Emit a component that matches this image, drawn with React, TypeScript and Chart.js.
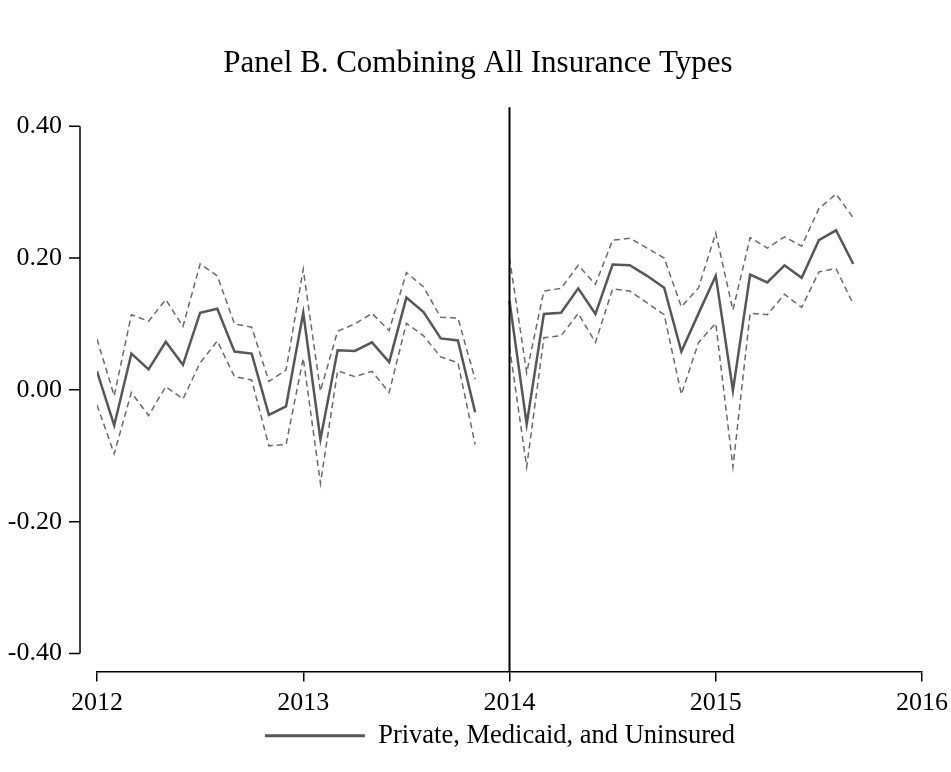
import { useEffect, useRef } from 'react';
import { Chart, registerables } from 'chart.js';

Chart.register(...registerables);

// monthly periods, Jan 2012 - Sep 2015 (Dec 2013 left empty -> gap)
const periods = [
  '2012-01', '2012-02', '2012-03', '2012-04', '2012-05', '2012-06',
  '2012-07', '2012-08', '2012-09', '2012-10', '2012-11', '2012-12',
  '2013-01', '2013-02', '2013-03', '2013-04', '2013-05', '2013-06',
  '2013-07', '2013-08', '2013-09', '2013-10', '2013-11', '2013-12',
  '2014-01', '2014-02', '2014-03', '2014-04', '2014-05', '2014-06',
  '2014-07', '2014-08', '2014-09', '2014-10', '2014-11', '2014-12',
  '2015-01', '2015-02', '2015-03', '2015-04', '2015-05', '2015-06',
  '2015-07', '2015-08', '2015-09'
];

const estimate = [
  0.028, -0.054, 0.055, 0.031, 0.073, 0.038, 0.117, 0.123, 0.058, 0.055, -0.038, -0.025,
  0.117, -0.075, 0.060, 0.059, 0.072, 0.042, 0.140, 0.118, 0.078, 0.075, -0.034, null,
  0.135, -0.052, 0.115, 0.117, 0.154, 0.115, 0.190, 0.189, 0.173, 0.155, 0.058, 0.116,
  0.173, -0.001, 0.175, 0.163, 0.189, 0.170, 0.227, 0.242, 0.191
];

const upperCI = [
  0.077, -0.009, 0.114, 0.104, 0.137, 0.096, 0.191, 0.173, 0.100, 0.095, 0.013, 0.030,
  0.183, -0.002, 0.089, 0.100, 0.116, 0.090, 0.178, 0.156, 0.110, 0.109, 0.016, null,
  0.200, 0.026, 0.150, 0.154, 0.189, 0.160, 0.227, 0.230, 0.215, 0.200, 0.126, 0.155,
  0.238, 0.121, 0.231, 0.215, 0.232, 0.218, 0.275, 0.297, 0.261
];

const lowerCI = [
  -0.023, -0.097, -0.004, -0.039, 0.005, -0.014, 0.041, 0.074, 0.020, 0.015, -0.085, -0.083,
  0.048, -0.142, 0.029, 0.020, 0.028, -0.004, 0.101, 0.082, 0.050, 0.041, -0.083, null,
  0.065, -0.117, 0.079, 0.082, 0.116, 0.072, 0.153, 0.150, 0.132, 0.114, -0.007, 0.072,
  0.101, -0.117, 0.116, 0.114, 0.145, 0.125, 0.179, 0.184, 0.130
];

const yTicks = [-0.4, -0.2, 0, 0.2, 0.4];
const xTicks = [2012, 2013, 2014, 2015, 2016];
const policyYear = 2014;

const FONT = "'Liberation Serif', 'Times New Roman', serif";
const MAIN = '#575757';
const CI = '#6a6a6a';

// "2014-03" -> 2014.1667
const toYear = (p: string) => {
  const [y, m] = p.split('-').map(Number);
  return y + (m - 1) / 12;
};

const toPoints = (vals: (number | null)[]) =>
  periods.map((p, i) => ({ x: toYear(p), y: vals[i] }));

// stata-like y axis (detached from plot) + the vertical reference line
const axesPlugin = {
  id: 'stataAxes',
  afterLayout(chart: any) {
    // nudge title and legend to where the original puts them
    if (chart.titleBlock) {
      chart.titleBlock.left += 17;
      chart.titleBlock.right += 17;
    }
    if (chart.legend) {
      chart.legend.left += 39;
      chart.legend.right += 39;
    }
  },
  afterDraw(chart: any) {
    const { ctx, chartArea, scales } = chart;
    const y = scales.y;
    const x = scales.x;
    const ax = chartArea.left - 17;
    const top = y.getPixelForValue(yTicks[yTicks.length - 1]);
    const bottom = y.getPixelForValue(yTicks[0]);
    ctx.save();
    ctx.strokeStyle = '#000';
    ctx.lineWidth = 1.5;
    ctx.beginPath();
    ctx.moveTo(ax, top);
    ctx.lineTo(ax, bottom);
    yTicks.forEach(v => {
      const py = y.getPixelForValue(v);
      ctx.moveTo(ax, py);
      ctx.lineTo(ax - 11, py);
    });
    ctx.stroke();

    const vx = x.getPixelForValue(policyYear);
    ctx.lineWidth = 2;
    ctx.beginPath();
    ctx.moveTo(vx, chartArea.top);
    ctx.lineTo(vx, chartArea.bottom);
    ctx.stroke();
    ctx.restore();
  }
};

const EventStudyChart = () => {
  const canvasRef = useRef<HTMLCanvasElement | null>(null);
  const chartRef = useRef<Chart | null>(null);

  useEffect(() => {
    if (!canvasRef.current) return;
    if (chartRef.current) chartRef.current.destroy();
    const ctx = canvasRef.current.getContext('2d');
    if (!ctx) return;

    chartRef.current = new Chart(ctx, {
      type: 'line',
      data: {
        datasets: [
          {
            label: 'Private, Medicaid, and Uninsured',
            data: toPoints(estimate),
            borderColor: MAIN,
            backgroundColor: MAIN,
            borderWidth: 2.5,
            pointRadius: 0,
            tension: 0,
            spanGaps: false
          },
          {
            label: 'Upper',
            data: toPoints(upperCI),
            borderColor: CI,
            borderWidth: 1.5,
            borderDash: [6, 4],
            pointRadius: 0,
            spanGaps: false
          },
          {
            label: 'Lower',
            data: toPoints(lowerCI),
            borderColor: CI,
            borderWidth: 1.5,
            borderDash: [6, 4],
            pointRadius: 0,
            spanGaps: false
          }
        ]
      },
      options: {
        animation: false,
        responsive: true,
        maintainAspectRatio: false,
        layout: { padding: { left: 0, right: 29, top: 0, bottom: 13 } },
        scales: {
          x: {
            type: 'linear',
            min: 2012,
            max: 2016,
            afterBuildTicks: (scale: any) => {
              scale.ticks = xTicks.map(v => ({ value: v }));
            },
            afterFit: (scale: any) => {
              scale.height = 45;
              scale.paddingLeft = 0;
              scale.paddingRight = 0;
            },
            grid: {
              drawOnChartArea: false,
              drawTicks: true,
              tickLength: 10,
              color: '#000',
              lineWidth: 1.5
            },
            border: { display: true, color: '#000', width: 1.5 },
            ticks: {
              maxRotation: 0,
              padding: 6,
              color: '#000',
              font: { family: FONT, size: 26 },
              callback: (v: any) => String(v)
            }
          },
          y: {
            min: -0.4273,
            max: 0.4288,
            afterBuildTicks: (scale: any) => {
              scale.ticks = yTicks.map(v => ({ value: v }));
            },
            afterFit: (scale: any) => {
              scale.width = 97;
            },
            grid: { display: false },
            border: { display: false },
            ticks: {
              padding: 27,
              color: '#000',
              font: { family: FONT, size: 26 },
              callback: (v: any) => Number(v).toFixed(2)
            }
          }
        },
        plugins: {
          title: {
            display: true,
            text: 'Panel B. Combining All Insurance Types',
            color: '#000',
            font: { family: FONT, size: 31, weight: 'normal' },
            padding: { top: 45, bottom: 25 }
          },
          legend: {
            position: 'bottom',
            labels: {
              boxWidth: 100,
              boxHeight: 3,
              padding: 6,
              color: '#000',
              font: { family: FONT, size: 26.5 },
              generateLabels: () => [
                {
                  text: 'Private, Medicaid, and Uninsured',
                  fillStyle: MAIN,
                  strokeStyle: MAIN,
                  lineWidth: 0,
                  hidden: false,
                  datasetIndex: 0
                }
              ]
            }
          },
          tooltip: { enabled: false }
        }
      },
      plugins: [axesPlugin]
    });

    return () => {
      if (chartRef.current) {
        chartRef.current.destroy();
        chartRef.current = null;
      }
    };
  }, []);

  return (
    <div style={{ position: 'absolute', left: 0, top: 0, width: 951, height: 772 }}>
      <canvas ref={canvasRef} />
    </div>
  );
};

export default function App() {
  return <EventStudyChart />;
}
